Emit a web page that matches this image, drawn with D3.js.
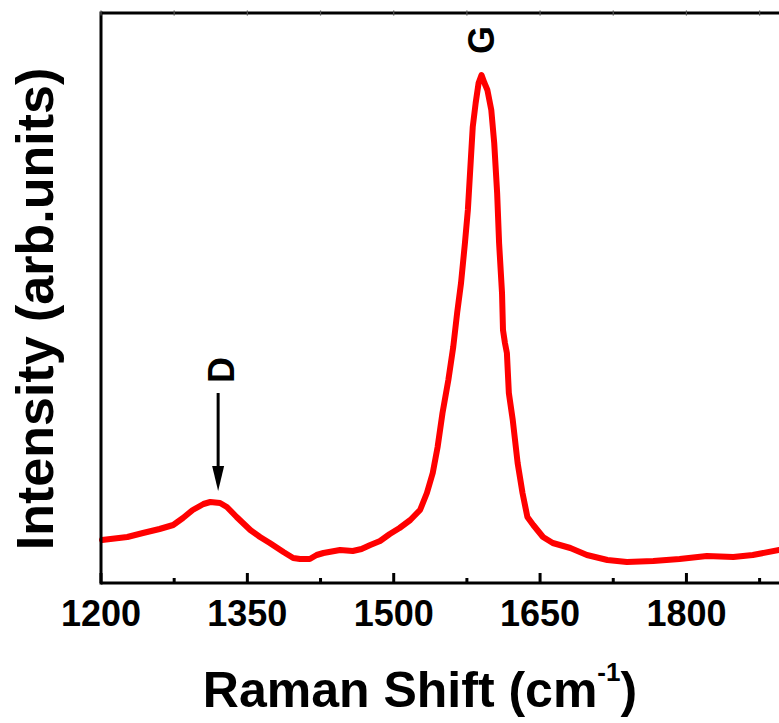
<!DOCTYPE html>
<html>
<head>
<meta charset="utf-8">
<script src="https://cdn.jsdelivr.net/npm/d3@7"></script>
<style>
  html, body { margin: 0; padding: 0; background: #fff; }
  svg { display: block; font-family: "Liberation Sans", Arial, sans-serif; font-weight: bold; }
</style>
</head>
<body>
<svg id="chart" width="779" height="723"></svg>
<script>
// Raman shift (cm^-1)
const shift = [1201,1227,1243,1260,1274,1284,1294,1305,1312,1322,1329,1339,1353,1363,1373,1387,1397,1404,1414,1421,1428,1445,1458,1467,1476,1486,1496,1506,1517,1527,1534,1540,1545,1550,1556,1561,1565,1569,1573,1576,1579,1581,1584,1587,1590,1593,1596,1600,1603,1606,1608,1611,1612,1614,1616,1618,1622,1627,1632,1637,1643,1653,1663,1681,1698,1719,1739,1766,1793,1821,1848,1868,1895];
// Intensity (arb. units)
const intensity = [430,460,500,540,580,650,730,790,810,800,760,660,530,460,400,310,250,240,240,280,300,330,320,340,380,420,490,550,630,730,900,1100,1360,1700,2030,2360,2700,3000,3400,3730,4230,4560,4800,5000,5080,5000,4930,4730,4400,3900,3400,2900,2530,2400,2300,1900,1630,1200,900,660,580,460,400,350,280,230,210,220,240,270,260,280,330];
const xTicks = [1200,1350,1500,1650,1800];
const xMinorTicks = [1275,1425,1575,1725,1875];
const peaks = [{label:"D", x:1318, y:810}, {label:"G", x:1589, y:5080}];

(function () {
const svg = d3.select("#chart");
const W = 779, H = 723;
svg.append("rect").attr("width", W).attr("height", H).attr("fill", "#fff");

const pL = 101, pR = 784, pT = 13, pB = 583;
const x = d3.scaleLinear().domain([1200, 1900]).range([pL, pR]);
const y = d3.scaleLinear().domain([0, 5700]).range([pB, pT]);

const data = shift.map((s, i) => ({s, v: intensity[i]}));

// curve
svg.append("path")
  .datum(data)
  .attr("fill", "none")
  .attr("stroke", "#ff0000")
  .attr("stroke-width", 6)
  .attr("stroke-linejoin", "round")
  .attr("stroke-linecap", "round")
  .attr("d", d3.line().x(d => x(d.s)).y(d => y(d.v)).curve(d3.curveLinear));

// frame
const frame = svg.append("g").attr("stroke", "#000").attr("stroke-width", 3).attr("fill", "none");
frame.append("line").attr("x1", pL).attr("x2", pL).attr("y1", pT - 1.5).attr("y2", pB + 1.5);
frame.append("line").attr("x1", pL).attr("x2", pR).attr("y1", pB).attr("y2", pB);
frame.append("line").attr("x1", pL).attr("x2", pR).attr("y1", pT).attr("y2", pT);

// bottom axis ticks (inward)
const ax = svg.append("g").attr("stroke", "#000").attr("stroke-width", 3);
xTicks.forEach(t => ax.append("line").attr("x1", x(t)).attr("x2", x(t)).attr("y1", pB).attr("y2", pB - 10));
xMinorTicks.forEach(t => ax.append("line").attr("x1", x(t)).attr("x2", x(t)).attr("y1", pB).attr("y2", pB - 5));
// tiny top ticks
xTicks.concat(xMinorTicks).forEach(t => svg.append("line").attr("stroke", "#555").attr("stroke-width", 1.2)
  .attr("x1", x(t)).attr("x2", x(t)).attr("y1", pT - 2.5).attr("y2", pT + 2.5));

// tick labels
svg.append("g").selectAll("text").data(xTicks).join("text")
  .attr("x", d => x(d)).attr("y", 626)
  .attr("text-anchor", "middle")
  .attr("font-size", 36)
  .attr("fill", "#000")
  .text(d => d);

// x title
const xt = svg.append("text").attr("x", 420).attr("y", 707).attr("text-anchor", "middle")
  .attr("font-size", 50).attr("fill", "#000");
xt.append("tspan").text("Raman Shift (cm");
xt.append("tspan").attr("font-size", 26).attr("dy", -26).text("-1");
xt.append("tspan").attr("dy", 26).text(")");

// y title
svg.append("text")
  .attr("transform", `translate(53,${(pT + pB) / 2 + 11}) rotate(-90)`)
  .attr("text-anchor", "middle")
  .attr("font-size", 52)
  .attr("fill", "#000")
  .text("Intensity (arb.units)");

// peak labels
const D = peaks[0], G = peaks[1];
svg.append("text")
  .attr("transform", `translate(${x(D.x) + 5},370) rotate(-90)`)
  .attr("text-anchor", "middle").attr("dy", "0.36em")
  .attr("font-size", 36).attr("fill", "#000").text(D.label);
svg.append("text")
  .attr("transform", `translate(${x(G.x)},40) rotate(-90)`)
  .attr("text-anchor", "middle").attr("dy", "0.36em")
  .attr("font-size", 36).attr("fill", "#000").text(G.label);

// arrow for D
const axp = x(D.x) + 2;
svg.append("line").attr("x1", axp).attr("x2", axp).attr("y1", 393).attr("y2", 472)
  .attr("stroke", "#000").attr("stroke-width", 3);
svg.append("path")
  .attr("d", `M${axp - 6},466 L${axp + 6},466 L${axp},491 Z`)
  .attr("fill", "#000");
})();
</script>
</body>
</html>
